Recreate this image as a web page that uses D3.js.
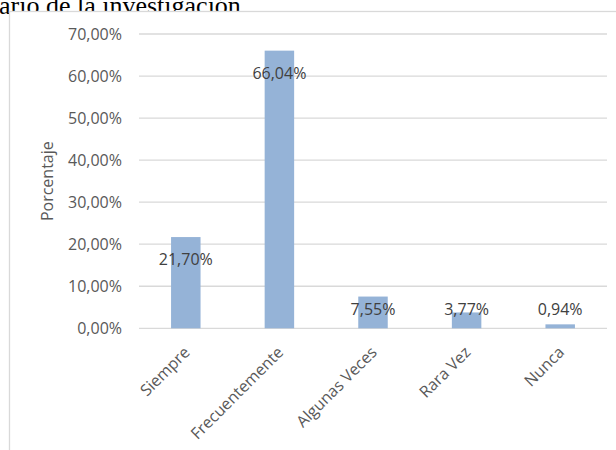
<!DOCTYPE html>
<html><head><meta charset="utf-8">
<script src="https://cdn.jsdelivr.net/npm/d3@7"></script>
<style>body{margin:0;background:#fff}svg{display:block}</style>
</head><body>
<script>
const categories = ["Siempre","Frecuentemente","Algunas Veces","Rara Vez","Nunca"];
const values = [21.70, 66.04, 7.55, 3.77, 0.94];
const yTicks = [0,10,20,30,40,50,60,70];
const titleText = "ario de la investigación";
const yTitle = "Porcentaje";

const W=616,H=450;
const svg=d3.select("body").append("svg").attr("width",W).attr("height",H);
svg.append("rect").attr("width",W).attr("height",H).attr("fill","#fff");

svg.append("text").attr("x",-1).attr("y",13.5)
  .attr("font-family","'Liberation Serif','Times New Roman',serif")
  .attr("font-size",26).attr("fill","#000").text(titleText);

svg.append("rect").attr("x",9.5).attr("y",11.5).attr("width",W+10).attr("height",H+10)
  .attr("fill","#fff").attr("stroke","#d9d9d9").attr("stroke-width",1.3);

const fmt = v => d3.format(".2f")(v).replace(".",",")+"%";
const x=d3.scaleBand().domain(categories).range([139,607]).padding(0);
const y=d3.scaleLinear().domain([0,70]).range([328.3,34]);
const font="'Open Sans',sans-serif";

const g=svg.append("g");
g.selectAll("line.grid").data(yTicks).join("line")
  .attr("x1",139).attr("x2",607).attr("y1",d=>y(d)).attr("y2",d=>y(d))
  .attr("stroke","#d9d9d9").attr("stroke-width",1.3);

const yAxis=d3.axisLeft(y).tickValues(yTicks).tickFormat(fmt).tickSize(0).tickPadding(0);
const ya=svg.append("g").attr("transform","translate(122,0)").call(yAxis);
ya.select(".domain").remove();
ya.selectAll("text").attr("font-family",font).attr("font-size",16).attr("fill","#595959").attr("dy","0.35em");

const bw=x.bandwidth()*0.315;
g.selectAll("rect.bar").data(values).join("rect")
  .attr("x",(d,i)=>x(categories[i])+x.bandwidth()/2-bw/2)
  .attr("width",bw).attr("y",d=>y(d)).attr("height",d=>y(0)-y(d))
  .attr("fill","#95b3d7");

g.selectAll("text.lbl").data(values).join("text")
  .attr("x",(d,i)=>x(categories[i])+x.bandwidth()/2)
  .attr("y",d=>Math.min(y(d)+28,y(0)-13.5))
  .attr("text-anchor","middle").attr("font-family",font).attr("font-size",16)
  .attr("fill","#404040").text(d=>fmt(d));

const xAxis=d3.axisBottom(x).tickSize(0).tickPadding(0);
const xa=svg.append("g").attr("transform","translate(0,328.3)").call(xAxis);
xa.select(".domain").remove();
xa.selectAll(".tick text").attr("font-family",font).attr("font-size",16).attr("fill","#595959")
  .attr("text-anchor","end").attr("dy",0).attr("y",0)
  .attr("transform","translate(5,25) rotate(-45)");

svg.append("text").attr("transform",`translate(53,${(y(0)+y(70))/2}) rotate(-90)`)
  .attr("text-anchor","middle").attr("font-family",font).attr("font-size",16)
  .attr("fill","#595959").text(yTitle);
</script>
</body></html>
